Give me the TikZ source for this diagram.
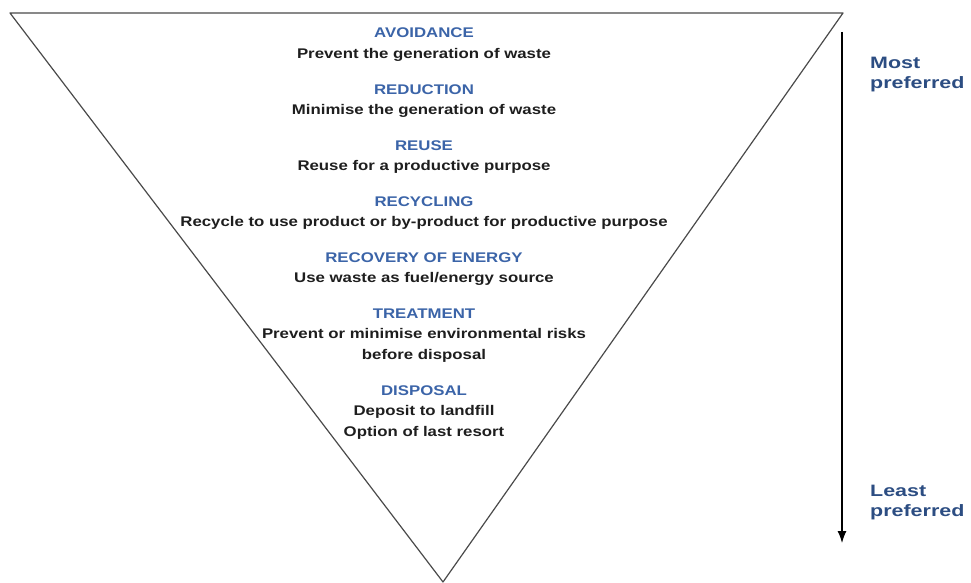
\documentclass[tikz,border=0pt]{standalone}
\usepackage{fontspec}
\usetikzlibrary{arrows.meta,positioning}
\newfontfamily\hierfont[FakeStretch=1.2]{Liberation Sans}
\newfontfamily\rankfont[FakeStretch=1.3]{Liberation Sans}
\definecolor{hierBlue}{HTML}{3B64A8}
\definecolor{hierNavy}{HTML}{2C4D82}
\definecolor{hierInk}{HTML}{1E1E1E}
\definecolor{hierLine}{HTML}{4A4A4A}
\newcommand{\tier}[1]{\textcolor{hierBlue}{#1}}

\begin{document}
\begin{tikzpicture}[x=1pt,y=-1pt,node distance=22.5pt,>={Latex[length=12pt,width=9pt]}]
\tikzstyle{level}=[inner sep=0pt,align=center,text=hierInk,font=\hierfont\bfseries\fontsize{14}{20.5}\selectfont]
\tikzstyle{rank}=[anchor=north west,inner sep=0pt,align=left,text=hierNavy,font=\rankfont\bfseries\fontsize{16.5}{20}\selectfont]
\useasboundingbox (0,0) rectangle (971,583);
% inverted triangle
\coordinate (tl) at (10,13);
\coordinate (tr) at (843,13);
\coordinate (tip) at (443,582);
\draw[hierLine,line width=1.2pt,line join=round] (tl) -- (tr) -- (tip) -- cycle;
% levels of the hierarchy
\node[level,anchor=north] (avoid) at (424,28) {\tier{AVOIDANCE}\\Prevent the generation of waste};
\node[level,below=of avoid] (reduce) {\tier{REDUCTION}\\Minimise the generation of waste};
\node[level,below=of reduce] (reuse) {\tier{REUSE}\\Reuse for a productive purpose};
\node[level,below=of reuse] (recycle) {\tier{RECYCLING}\\Recycle to use product or by-product for productive purpose};
\node[level,below=of recycle] (recover) {\tier{RECOVERY OF ENERGY}\\Use waste as fuel/energy source};
\node[level,below=of recover] (treat) {\tier{TREATMENT}\\Prevent or minimise environmental risks\\before disposal};
\node[level,below=of treat] (dispose) {\tier{DISPOSAL}\\Deposit to landfill\\Option of last resort};
% preference arrow
\coordinate (pref top) at (842,32);
\coordinate (pref end) at (842,543);
\draw[->,line width=1.2pt] (pref top) -- (pref end);
\node[rank] (most) at (870,57) {Most\\preferred};
\node[rank] (least) at (870,485) {Least\\preferred};
\end{tikzpicture}
\end{document}
